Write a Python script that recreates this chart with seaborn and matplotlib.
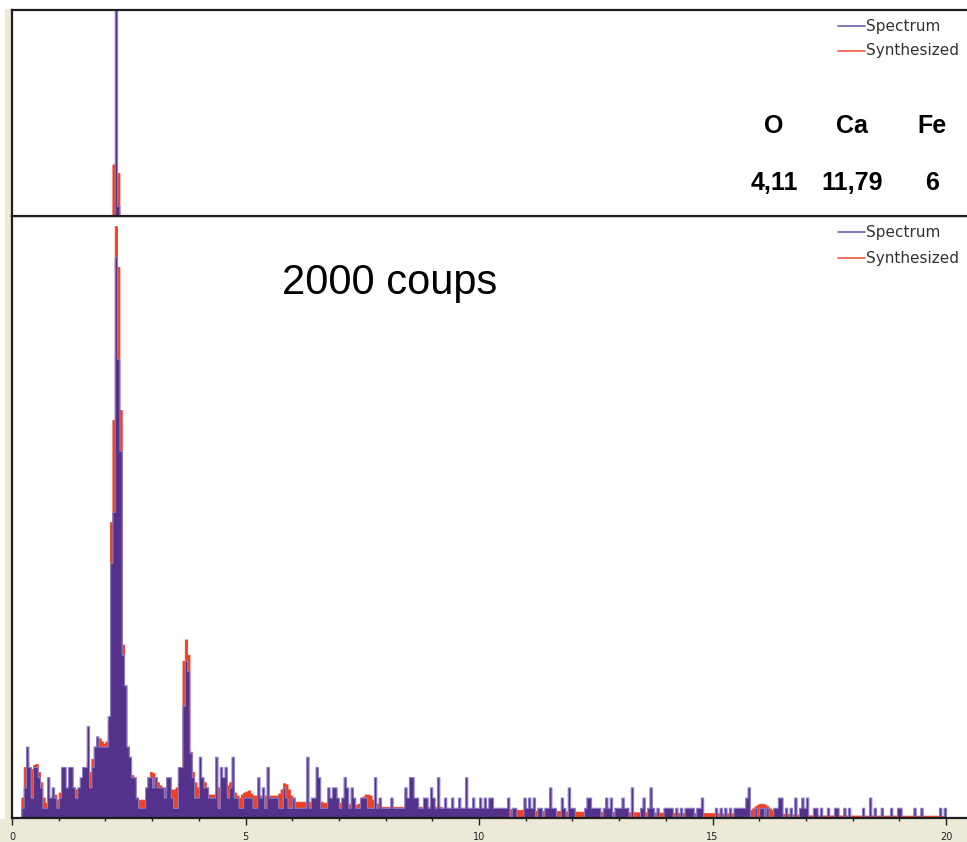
import numpy as np
import pandas as pd
import matplotlib
matplotlib.use("Agg")
import matplotlib.pyplot as plt
from matplotlib.lines import Line2D
from matplotlib.patches import Rectangle
import seaborn as sns

# ---------------- data ----------------
channel_width_kev = 0.05
n_channels = 400

spectrum = [
    0, 0, 0, 0, 1, 3, 7, 5, 2, 5,
    5, 4, 3, 1, 1, 4, 2, 3, 2, 1,
    2, 5, 5, 3, 5, 5, 3, 2, 3, 4,
    5, 5, 9, 3, 5, 7, 8, 7, 7, 7,
    7, 10, 25, 30, 55, 45, 36, 16, 13, 7,
    6, 4, 4, 2, 1, 1, 1, 3, 4, 4,
    3, 4, 3, 3, 3, 2, 4, 4, 2, 1,
    1, 5, 5, 11, 15.4, 14.4, 6.4, 4, 2, 2,
    6, 4, 3, 3, 2, 2, 2, 6, 1, 5,
    4, 5, 2, 3, 6, 2, 2, 1, 1, 2,
    2, 2, 2, 1, 1, 4, 2, 3, 1, 5,
    2, 2, 2, 2, 1, 1, 3, 2, 1, 1,
    2, 1, 1, 1, 1, 1, 6, 1, 2, 2,
    5, 4, 1, 1, 1, 3, 2, 3, 3, 2,
    1, 2, 4, 3, 1, 3, 2, 1, 1, 2,
    2, 2, 1, 1, 1, 4, 1, 2, 1, 1,
    1, 1, 2, 1, 1, 1, 1, 1, 3, 2,
    4, 4, 2, 2, 1, 1, 2, 2, 1, 3,
    2, 1, 4, 1, 1, 2, 1, 1, 2, 1,
    1, 2, 1, 1, 4, 1, 1, 2, 1, 1,
    2, 1, 2, 1, 2, 2, 1, 1, 1, 1,
    1, 1, 2, 0, 1, 1, 0, 0, 0, 2,
    1, 2, 1, 2, 0, 1, 1, 0, 1, 1,
    3, 1, 1, 0, 0, 2, 1, 0, 3, 1,
    1, 0, 0, 0, 0, 1, 2, 2, 1, 1,
    1, 1, 0, 1, 2, 1, 2, 0, 1, 1,
    1, 2, 1, 1, 0, 3, 0, 0, 0, 1,
    2, 0, 1, 3, 1, 0, 1, 0, 0, 1,
    1, 1, 1, 0, 1, 0, 1, 0, 1, 1,
    1, 1, 0, 1, 1, 2, 0, 0, 0, 0,
    0, 1, 0, 1, 0, 1, 0, 1, 0, 1,
    1, 1, 1, 1, 2, 3, 0, 0, 1, 0,
    1, 1, 0, 1, 0, 0, 1, 1, 2, 2,
    0, 1, 0, 1, 0, 2, 0, 1, 2, 1,
    2, 0, 0, 1, 1, 0, 1, 0, 0, 1,
    0, 0, 1, 1, 0, 0, 1, 0, 1, 0,
    0, 0, 0, 0, 1, 0, 0, 2, 0, 1,
    0, 0, 1, 0, 0, 0, 1, 0, 0, 1,
    1, 0, 0, 0, 0, 0, 1, 0, 0, 1,
    0, 0, 0, 0, 0, 0, 0, 1, 0, 1,
]

synthesized = [
    0, 0, 0, 0, 2, 5, 5.5, 5, 4.8, 5.2,
    5.3, 4.5, 3.5, 2, 1.5, 1.8, 2, 2.2, 2.3, 1.8,
    2.5, 2.8, 3, 3, 3, 3, 3, 2.8, 2.7, 3,
    4.5, 5, 5.5, 4.5, 5.8, 7, 7.8, 7.8, 7.5, 7.3,
    7.5, 9.5, 29, 39, 58, 54, 40, 17, 13, 7,
    6, 4.2, 2, 2, 1.8, 1.8, 1.8, 2.2, 4, 4.5,
    4.4, 4, 3.5, 3.2, 3, 3, 3, 2.8, 2.8, 2.8,
    3, 3.5, 5, 15.4, 17.5, 16, 6.5, 4.5, 3.5, 3,
    3, 3.8, 3.5, 3, 2.3, 2.3, 2.3, 2.5, 3, 3,
    3, 3.3, 3.2, 3.5, 3, 2.5, 2.2, 2, 2.3, 2.5,
    2.6, 2.7, 2.4, 2.2, 2.2, 2.2, 2.2, 2.2, 2.2, 2.2,
    2.2, 2.2, 2.2, 2.2, 2.4, 2.8, 3.4, 3.3, 2.8, 2.2,
    2, 1.6, 1.6, 1.6, 1.6, 1.6, 1.6, 1.6, 1.6, 1.6,
    1.6, 1.6, 1.6, 1.5, 1.5, 1.5, 1.5, 1.5, 1.5, 1.5,
    1.5, 1.5, 1.4, 1.4, 1.4, 1.4, 1.3, 1.3, 1.4, 1.8,
    2.1, 2.3, 2.3, 2.2, 1.8, 1.5, 1.4, 1.2, 1.1, 1.1,
    1.1, 1.1, 1.1, 1.1, 1.1, 1.1, 1.1, 1.1, 1.1, 1.1,
    1.1, 1.1, 1.1, 1.1, 1.1, 1.1, 1.1, 1.1, 1.1, 1.1,
    1.1, 1.1, 1.1, 1.1, 1.0, 1.0, 1.0, 1.0, 1.0, 1.0,
    1.0, 1.0, 1.0, 1.0, 1.0, 0.95, 0.95, 0.95, 0.95, 0.95,
    0.95, 0.95, 0.95, 0.9, 0.9, 0.9, 0.9, 0.9, 0.9, 0.9,
    0.9, 0.9, 0.85, 0.85, 0.85, 0.85, 0.8, 0.8, 0.8, 0.8,
    0.8, 0.8, 0.8, 0.8, 0.72, 0.72, 0.71, 0.7, 0.7, 0.7,
    0.69, 0.68, 0.68, 0.67, 0.67, 0.66, 0.66, 0.65, 0.65, 0.64,
    0.64, 0.63, 0.63, 0.62, 0.62, 0.62, 0.61, 0.61, 0.6, 0.6,
    0.6, 0.6, 0.59, 0.59, 0.59, 0.58, 0.58, 0.58, 0.58, 0.57,
    0.57, 0.57, 0.57, 0.56, 0.56, 0.56, 0.56, 0.56, 0.55, 0.55,
    0.55, 0.55, 0.55, 0.54, 0.54, 0.54, 0.53, 0.53, 0.53, 0.52,
    0.52, 0.52, 0.51, 0.51, 0.51, 0.5, 0.5, 0.5, 0.5, 0.5,
    0.5, 0.5, 0.5, 0.49, 0.49, 0.49, 0.48, 0.48, 0.48, 0.47,
    0.47, 0.47, 0.46, 0.46, 0.46, 0.46, 0.45, 0.45, 0.45, 0.45,
    0.45, 0.45, 0.45, 0.5, 0.6, 0.7, 0.8, 0.95, 1.15, 1.3,
    1.4, 1.4, 1.3, 1.15, 0.95, 0.8, 0.65, 0.55, 0.5, 0.45,
    0.42, 0.4, 0.38, 0.36, 0.35, 0.33, 0.32, 0.3, 0.3, 0.28,
    0.27, 0.26, 0.26, 0.25, 0.25, 0.25, 0.25, 0.25, 0.25, 0.25,
    0.25, 0.25, 0.25, 0.25, 0.25, 0.25, 0.25, 0.25, 0.25, 0.25,
    0.24, 0.24, 0.24, 0.24, 0.24, 0.24, 0.24, 0.24, 0.24, 0.24,
    0.24, 0.24, 0.24, 0.24, 0.24, 0.24, 0.24, 0.24, 0.24, 0.24,
    0.23, 0.23, 0.23, 0.23, 0.23, 0.23, 0.23, 0.23, 0.23, 0.23,
    0.23, 0.23, 0.23, 0.23, 0.23, 0.23, 0.22, 0.22, 0.2, 0.2,
]

# upper panel: a few channels around the main peak (different count scale)
top_channels = [43, 44, 45]
top_spectrum = [0, 250, 12]
top_synthesized = [60, 60, 50]

tick_values = [0, 5, 10, 15, 20]
tick_labels = ["0", "5", "10", "15", "20"]
legend_labels = ["Spectrum", "Synthesized"]
elements = ["O", "Ca", "Fe"]
element_values = ["4,11", "11,79", "6"]
annotation = "2000 coups"

# ---------------- styling ----------------
W, H = 967, 842
PURPLE = "#54318A"
PURPLE_EDGE = "#8C7CC6"
RED = "#EE4023"
BEIGE = "#ECE9D8"
SPINE = "#1E1E1E"

sns.set_theme(style="white")
plt.rcParams["font.family"] = ["DejaVu Sans"]

fig = plt.figure(figsize=(W / 100, H / 100), dpi=100, facecolor="white")


def fx(px):
    return px / W


def fy(py):
    return 1 - py / H


# beige window-frame strips (behind the axes)
fig.patches.append(Rectangle((fx(5), fy(842)), fx(12) - fx(5), fy(9) - fy(842),
                             transform=fig.transFigure, color=BEIGE, zorder=-5))
fig.patches.append(Rectangle((0, 0), 1, fy(819), transform=fig.transFigure,
                             color=BEIGE, zorder=-5))

px_per_kev = (946 - 12) / 20.0
ax_w_px = 990 - 12
xmax = ax_w_px / px_per_kev

edges = (np.arange(n_channels + 1) * channel_width_kev).tolist()
centers = [e + channel_width_kev / 2 for e in edges[:-1]]

df = pd.DataFrame({"energy": centers,
                   "spectrum": spectrum,
                   "synthesized": synthesized})

top_df = pd.DataFrame({"energy": [centers[c] for c in top_channels],
                       "spectrum": top_spectrum,
                       "synthesized": top_synthesized})

ax_bot = fig.add_axes([fx(12), fy(818), ax_w_px / W, (818 - 216) / H])
ax_top = fig.add_axes([fx(12), fy(216), ax_w_px / W, (216 - 10) / H])


def draw(ax, data, ymax):
    sns.histplot(data=data, x="energy", weights="synthesized", bins=edges,
                 element="step", fill=True, color=RED, alpha=1,
                 edgecolor=RED, linewidth=0.6, ax=ax, zorder=2)
    sns.histplot(data=data, x="energy", weights="spectrum", bins=edges,
                 element="step", fill=True, color=PURPLE, alpha=1,
                 edgecolor=PURPLE_EDGE, linewidth=0.8, ax=ax, zorder=3)
    ax.set_xlim(0, xmax)
    ax.set_ylim(0, ymax)
    ax.set_xlabel("")
    ax.set_ylabel("")
    ax.set_yticks([])
    ax.set_facecolor("white")
    for s in ["left", "top", "bottom"]:
        ax.spines[s].set_visible(True)
        ax.spines[s].set_color(SPINE)
        ax.spines[s].set_linewidth(1.6)
        ax.spines[s].set_zorder(5)
    ax.spines["right"].set_visible(False)


draw(ax_bot, df, 59)
draw(ax_top, top_df, 240)

ax_top.set_xticks([])

ax_bot.set_xticks(tick_values)
ax_bot.set_xticklabels(tick_labels, fontsize=7, color="#222222")
ax_bot.set_xticks(np.arange(0, 21, 1), minor=True)
ax_bot.tick_params(axis="x", which="major", direction="out", length=5,
                   width=1, color=SPINE, pad=5, bottom=True, labelbottom=True)
ax_bot.tick_params(axis="x", which="minor", direction="out", length=2.5,
                   width=1, color=SPINE, bottom=True)

# legends (top-right of each panel)
legend_colors = ["#6E5CB0", "#F05A40"]
for ys in ([26, 51], [232, 258]):
    for y, lab, col in zip(ys, legend_labels, legend_colors):
        fig.add_artist(Line2D([fx(838), fx(865)], [fy(y), fy(y)],
                              transform=fig.transFigure, color=col, lw=1.2))
        fig.text(fx(866), fy(y), lab, fontsize=11, color="#333333",
                 ha="left", va="center")

# element table
fam = ["Liberation Sans", "DejaVu Sans"]
for xc, el, val in zip([774, 852, 932], elements, element_values):
    fig.text(fx(xc), fy(133), el, fontsize=18, fontweight="bold", family=fam,
             ha="center", va="baseline", color="black")
    fig.text(fx(xc), fy(190), val, fontsize=18, fontweight="bold", family=fam,
             ha="center", va="baseline", color="black")

fig.text(fx(282), fy(283), annotation, fontsize=30, family=["Liberation Sans", "DejaVu Sans"],
         ha="left", va="center", color="black")

fig.savefig("out.png", dpi=100, facecolor=fig.get_facecolor())
